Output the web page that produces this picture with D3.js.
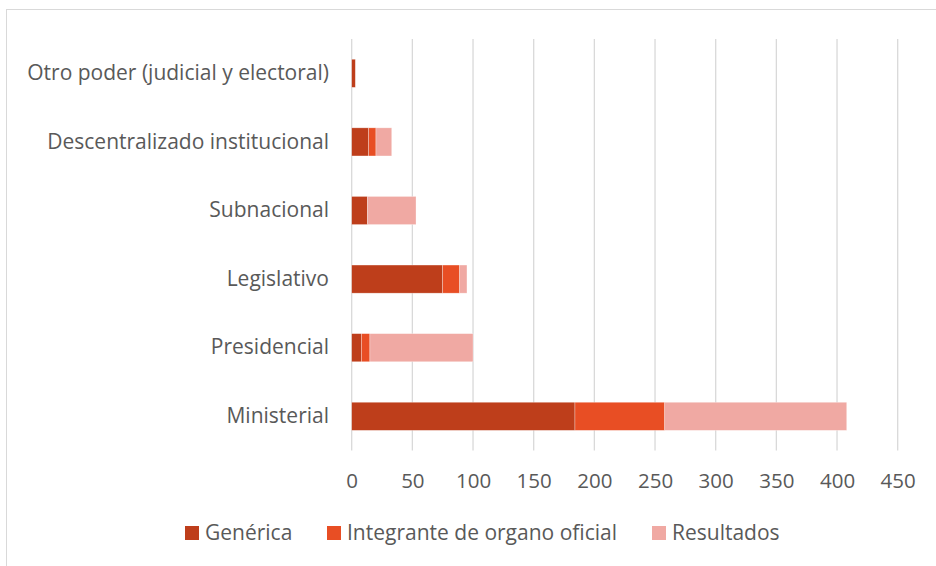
<!DOCTYPE html>
<html>
<head>
<meta charset="utf-8">
<script src="https://cdn.jsdelivr.net/npm/d3@7"></script>
<style>
  body { margin: 0; background: #fff; }
  svg text { font-family: "Open Sans", sans-serif; fill: #595959; }
</style>
</head>
<body>
<div class="chart"></div>
<script>
// categories top to bottom as drawn
const categories = [
  "Otro poder (judicial y electoral)",
  "Descentralizado institucional",
  "Subnacional",
  "Legislativo",
  "Presidencial",
  "Ministerial"
];
const seriesNames = ["Genérica", "Integrante de organo oficial", "Resultados"];
const generica   = [3, 14, 13, 75, 8, 184];
const integrante = [0, 6, 0, 14, 7, 74];
const resultados = [0, 13, 40, 6, 85, 150];
const xTicks = [0, 50, 100, 150, 200, 250, 300, 350, 400, 450];
const colors = ["#BE3E1B", "#E84E24", "#F0A9A3"];

const width = 936, height = 566;
const svg = d3.select(".chart").append("svg")
  .attr("width", width)
  .attr("height", height);

// chart frame
svg.append("rect")
  .attr("x", 6.5).attr("y", 9.5)
  .attr("width", 940).attr("height", 570)
  .attr("fill", "none")
  .attr("stroke", "#d9d9d9");

const x = d3.scaleLinear().domain([0, 450]).range([351.7, 897.7]);
const y = d3.scaleBand().domain(categories).range([39, 450.6]).paddingInner(0.59).paddingOuter(0.295);

// gridlines
svg.append("g")
  .selectAll("line")
  .data(xTicks)
  .join("line")
  .attr("x1", d => x(d)).attr("x2", d => x(d))
  .attr("y1", 39).attr("y2", 450.6)
  .attr("stroke", "#d9d9d9")
  .attr("stroke-width", 1.3);

// stacked data
const rows = categories.map((c, i) => ({
  cat: c,
  "Genérica": generica[i],
  "Integrante de organo oficial": integrante[i],
  "Resultados": resultados[i]
}));
const stacked = d3.stack().keys(seriesNames)(rows);

svg.append("g")
  .selectAll("g")
  .data(stacked)
  .join("g")
  .attr("fill", (d, i) => colors[i])
  .selectAll("rect")
  .data(d => d)
  .join("rect")
  .attr("x", d => x(d[0]))
  .attr("y", d => y(d.data.cat))
  .attr("width", d => x(d[1]) - x(d[0]))
  .attr("height", y.bandwidth())
  .attr("stroke", "#fff")
  .attr("stroke-opacity", 0.5)
  .attr("stroke-width", 0.6);

// x axis labels
const xAxis = d3.axisBottom(x).tickValues(xTicks).tickSize(0).tickPadding(0);
svg.append("g")
  .attr("transform", "translate(0,481)")
  .call(xAxis)
  .call(g => g.select(".domain").remove())
  .call(g => g.selectAll("text")
    .attr("dy", "0.35em")
    .style("font-size", "20.5px")
    .style("font-family", "'Open Sans', sans-serif")
    .attr("fill", "#595959"));

// y axis labels
const yAxis = d3.axisLeft(y).tickSize(0).tickPadding(0);
svg.append("g")
  .attr("transform", "translate(329,0)")
  .call(yAxis)
  .call(g => g.select(".domain").remove())
  .call(g => g.selectAll("text")
    .style("font-size", "21px")
    .style("font-family", "'Open Sans', sans-serif")
    .attr("fill", "#595959"));

// legend
const legendX = [185, 327, 652];
const legend = svg.append("g").selectAll("g")
  .data(seriesNames)
  .join("g")
  .attr("transform", (d, i) => `translate(${legendX[i]},533)`);
legend.append("rect")
  .attr("x", 0).attr("y", -7)
  .attr("width", 14).attr("height", 14)
  .attr("fill", (d, i) => colors[i]);
legend.append("text")
  .attr("x", 20)
  .attr("dy", "0.35em")
  .style("font-size", "21px")
  .text(d => d);
</script>
</body>
</html>
